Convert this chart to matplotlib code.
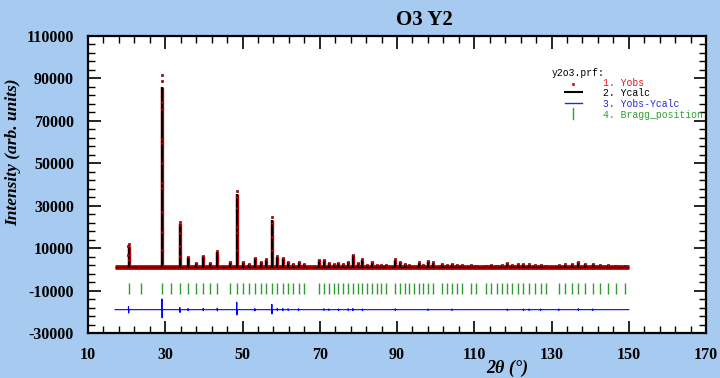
import matplotlib
matplotlib.use('Agg')
import matplotlib.pyplot as plt
from matplotlib.ticker import MultipleLocator, FormatStrFormatter

plt.rcParams['axes.unicode_minus'] = False

# ---- values ----
tth_start, tth_end = 17.0, 150.0
background = 1200
diff_offset = -19000
bragg_low, bragg_high = -11500, -6500

# Bragg positions (2theta, deg)
bragg_pos = [20.50, 23.71, 29.15, 31.54, 33.78, 35.90, 37.91, 39.84, 41.69, 43.48,
             46.89, 48.52, 50.12, 51.68, 53.20, 54.70, 56.17, 57.61, 59.03, 60.43,
             61.81, 63.18, 64.52, 65.86, 69.77, 71.06, 72.33, 73.60, 74.85, 76.10,
             77.35, 78.58, 79.81, 81.04, 82.26, 83.48, 84.70, 85.91, 87.12, 89.54,
             90.75, 91.96, 93.17, 94.38, 95.60, 96.81, 98.03, 99.25, 101.71, 102.95,
             104.20, 105.45, 106.71, 109.25, 110.54, 113.14, 114.46, 115.80, 117.15,
             118.52, 119.90, 121.31, 122.73, 124.18, 125.66, 127.16, 128.69, 131.86,
             133.51, 135.20, 136.95, 138.75, 140.62, 142.57, 144.60, 146.75, 149.02]

# peak tops: position, calculated and observed intensity
peak_pos = [20.50, 29.15, 33.78, 35.90, 37.91, 39.84, 41.69, 43.48, 46.89, 48.52,
            50.12, 51.68, 53.20, 54.70, 56.17, 57.61, 59.03, 60.43, 61.81, 63.18,
            64.52, 65.86, 69.77, 71.06, 72.33, 73.60, 74.85, 76.10, 77.35, 78.58,
            79.81, 81.04, 82.26, 83.48, 84.70, 85.91, 87.12, 89.54, 90.75, 91.96,
            93.17, 95.60, 96.81, 98.03, 99.25, 101.71, 102.95, 104.20, 105.45,
            106.71, 109.25, 110.54, 113.14, 114.46, 115.80, 117.15, 118.52, 119.90,
            121.31, 122.73, 124.18, 125.66, 127.16, 128.69, 131.86, 133.51, 135.20,
            136.95, 138.75, 140.62, 142.57, 144.60, 146.75, 149.02]
peak_calc = [11000, 86000, 21500, 5800, 3000, 6300, 3000, 8300, 3300, 35500,
             3400, 2400, 5300, 3400, 4500, 23500, 6000, 5300, 3400, 2500,
             3500, 2400, 4200, 4200, 2800, 2400, 2800, 2300, 3500, 6800,
             3000, 4500, 2200, 3300, 2000, 1900, 2200, 4500, 3500, 2600,
             2000, 3200, 2200, 3900, 3200, 2300, 2000, 2400, 2000,
             2100, 2000, 1800, 1800, 2000, 1800, 1900, 2900, 2200,
             2500, 2400, 2200, 1900, 1900, 1800, 1900, 2200, 2400,
             3400, 2600, 2400, 2000, 1900, 1800, 1700]
peak_obs = [12000, 91500, 22300, 6000, 3100, 6500, 3000, 8700, 3300, 36900,
            3500, 2500, 5500, 3500, 4700, 24700, 6200, 5300, 3300, 2500,
            3600, 2400, 4400, 4400, 2900, 2400, 2800, 2300, 3600, 7000,
            3000, 4700, 2200, 3300, 2000, 1900, 2200, 4700, 3500, 2600,
            2000, 3300, 2200, 4000, 3300, 2400, 2000, 2400, 2100,
            2100, 2000, 1800, 1800, 2100, 1800, 1900, 3000, 2200,
            2500, 2500, 2300, 2000, 1900, 1800, 2000, 2300, 2500,
            3600, 2700, 2500, 2000, 2000, 1800, 1700]

# observed points on the flanks of the strong lines
flank_tth = [20.47, 20.45, 20.55,
             29.16, 29.13, 29.17, 29.14, 29.18, 29.12, 29.19, 29.11, 29.10, 29.20, 29.08,
             33.76, 33.80, 33.75, 33.82,
             48.50, 48.54, 48.49, 48.56, 48.47,
             57.59, 57.64, 57.57]
flank_int = [10800, 7000, 4500,
             88900, 79000, 75600, 61400, 59700, 50100, 40700, 38300, 27200, 17800, 9000,
             21000, 17000, 11000, 6500,
             34000, 28900, 20100, 17100, 9000,
             21800, 15400, 9000]

# difference curve spikes: position, excursion above / below the offset
diff_pos = [20.50, 29.15, 33.78, 35.90, 39.84, 43.48, 48.52, 53.20, 57.61, 59.03,
            60.43, 61.81, 64.52, 71.06, 72.33, 74.85, 77.35, 78.58, 81.04, 89.54,
            98.03, 104.20, 118.52, 122.73, 124.18, 127.16, 131.86, 136.95, 140.62]
diff_up = [1500, 5000, 1000, 500, 600, 700, 3500, 500, 2500, 600,
           500, 400, 400, 400, 300, 300, 400, 500, 300, 400,
           300, 300, 300, 300, 300, 300, 300, 400, 300]
diff_down = [1600, 3800, 1300, 400, 500, 600, 2500, 500, 2000, 500,
             400, 300, 300, 300, 300, 300, 300, 400, 300, 300,
             300, 300, 300, 300, 300, 300, 300, 300, 300]

# ---- figure ----
fig = plt.figure(figsize=(7.2, 3.78), dpi=100, facecolor='#a6caf0')
ax = fig.add_axes([88 / 720, 1 - 333 / 378, 618 / 720, 297 / 378])
ax.set_facecolor('white')

# Yobs: red band on the background plus points on the peaks
ax.hlines(background, tth_start, tth_end, color='#d00000', linewidth=3.5, zorder=2)
ax.vlines(peak_pos, background, peak_calc, color='#d00000', linewidth=2.4, zorder=2)
ax.plot(peak_pos, peak_obs, 's', ms=2.0, mfc='#e80000', mec='#700000', mew=0.5, zorder=4)
ax.plot(flank_tth, flank_int, 's', ms=2.0, mfc='#e80000', mec='#700000', mew=0.5, zorder=4)

# Ycalc
ax.hlines(background, tth_start, tth_end, color='black', linewidth=1.0, zorder=3)
ax.vlines(peak_pos, background, peak_calc, color='black', linewidth=1.6, zorder=3)

# Bragg positions
ax.vlines(bragg_pos, bragg_low, bragg_high, color='#2f9e2f', linewidth=1.0)

# Yobs - Ycalc
dx, dy = [tth_start], [diff_offset]
for p, up, dn in zip(diff_pos, diff_up, diff_down):
    dx += [p - 0.06, p - 0.01, p + 0.03, p + 0.08]
    dy += [diff_offset, diff_offset + up, diff_offset - dn, diff_offset]
dx.append(tth_end)
dy.append(diff_offset)
ax.plot(dx, dy, color='#0000ff', linewidth=0.8)

# axes
ax.set_xlim(10, 170)
ax.set_ylim(-30000, 110000)
ax.xaxis.set_major_locator(MultipleLocator(20, offset=10))
ax.xaxis.set_minor_locator(MultipleLocator(4, offset=2))
ax.yaxis.set_major_locator(MultipleLocator(20000, offset=10000))
ax.yaxis.set_minor_locator(MultipleLocator(4000, offset=2000))
ax.yaxis.set_major_formatter(FormatStrFormatter('%d'))
ax.tick_params(which='both', direction='in', top=True, right=True, colors='black')
ax.tick_params(which='major', length=9, width=1.2, pad=10)
ax.tick_params(which='minor', length=5, width=1.0)
for s in ax.spines.values():
    s.set_linewidth(1.6)
for lab in ax.get_xticklabels() + ax.get_yticklabels():
    lab.set_fontfamily('Liberation Serif')
    lab.set_fontweight('bold')
    lab.set_fontsize(11.5)

fig.text(424 / 720, 1 - 20 / 378, 'O3 Y2', ha='center', va='center',
         fontsize=15, fontweight='bold', family='Liberation Serif')
fig.text(507 / 720, 1 - 368 / 378, '2θ (°)', ha='center', va='center',
         fontsize=13, fontweight='bold', style='italic', family='Liberation Serif')
fig.text(13 / 720, 1 - 152 / 378, 'Intensity (arb. units)', ha='center', va='center',
         rotation=90, fontsize=12.5, fontweight='bold', style='italic',
         family='Liberation Serif')

# legend drawn like the WinPLOTR one
mono = dict(family='Liberation Mono', fontsize=7, va='center', transform=ax.transAxes,
            clip_on=False)
ax.text(0.7503, 0.8744, 'y2o3.prf:', color='black', **mono)
ax.text(0.8338, 0.8407, '1. Yobs', color='#e01818', **mono)
ax.text(0.8338, 0.8070, '2. Ycalc', color='black', **mono)
ax.text(0.8338, 0.7710, '3. Yobs-Ycalc', color='#2a2ad0', **mono)
ax.text(0.8338, 0.7340, '4. Bragg_position', color='#2f9e2f', **mono)
ax.plot([0.785], [0.8394], 's', ms=2.0, mfc='#e80000', mec='#a00000', mew=0.4,
        transform=ax.transAxes, clip_on=False)
ax.plot([0.772, 0.800], [0.8104, 0.8104], color='black', lw=1.5, transform=ax.transAxes)
ax.plot([0.772, 0.800], [0.7734, 0.7734], color='#2a2ad0', lw=1.0, transform=ax.transAxes)
ax.plot([0.785, 0.785], [0.7205, 0.7576], color='#2f9e2f', lw=1.0, transform=ax.transAxes)

fig.savefig('out.png', dpi=100, facecolor=fig.get_facecolor())
